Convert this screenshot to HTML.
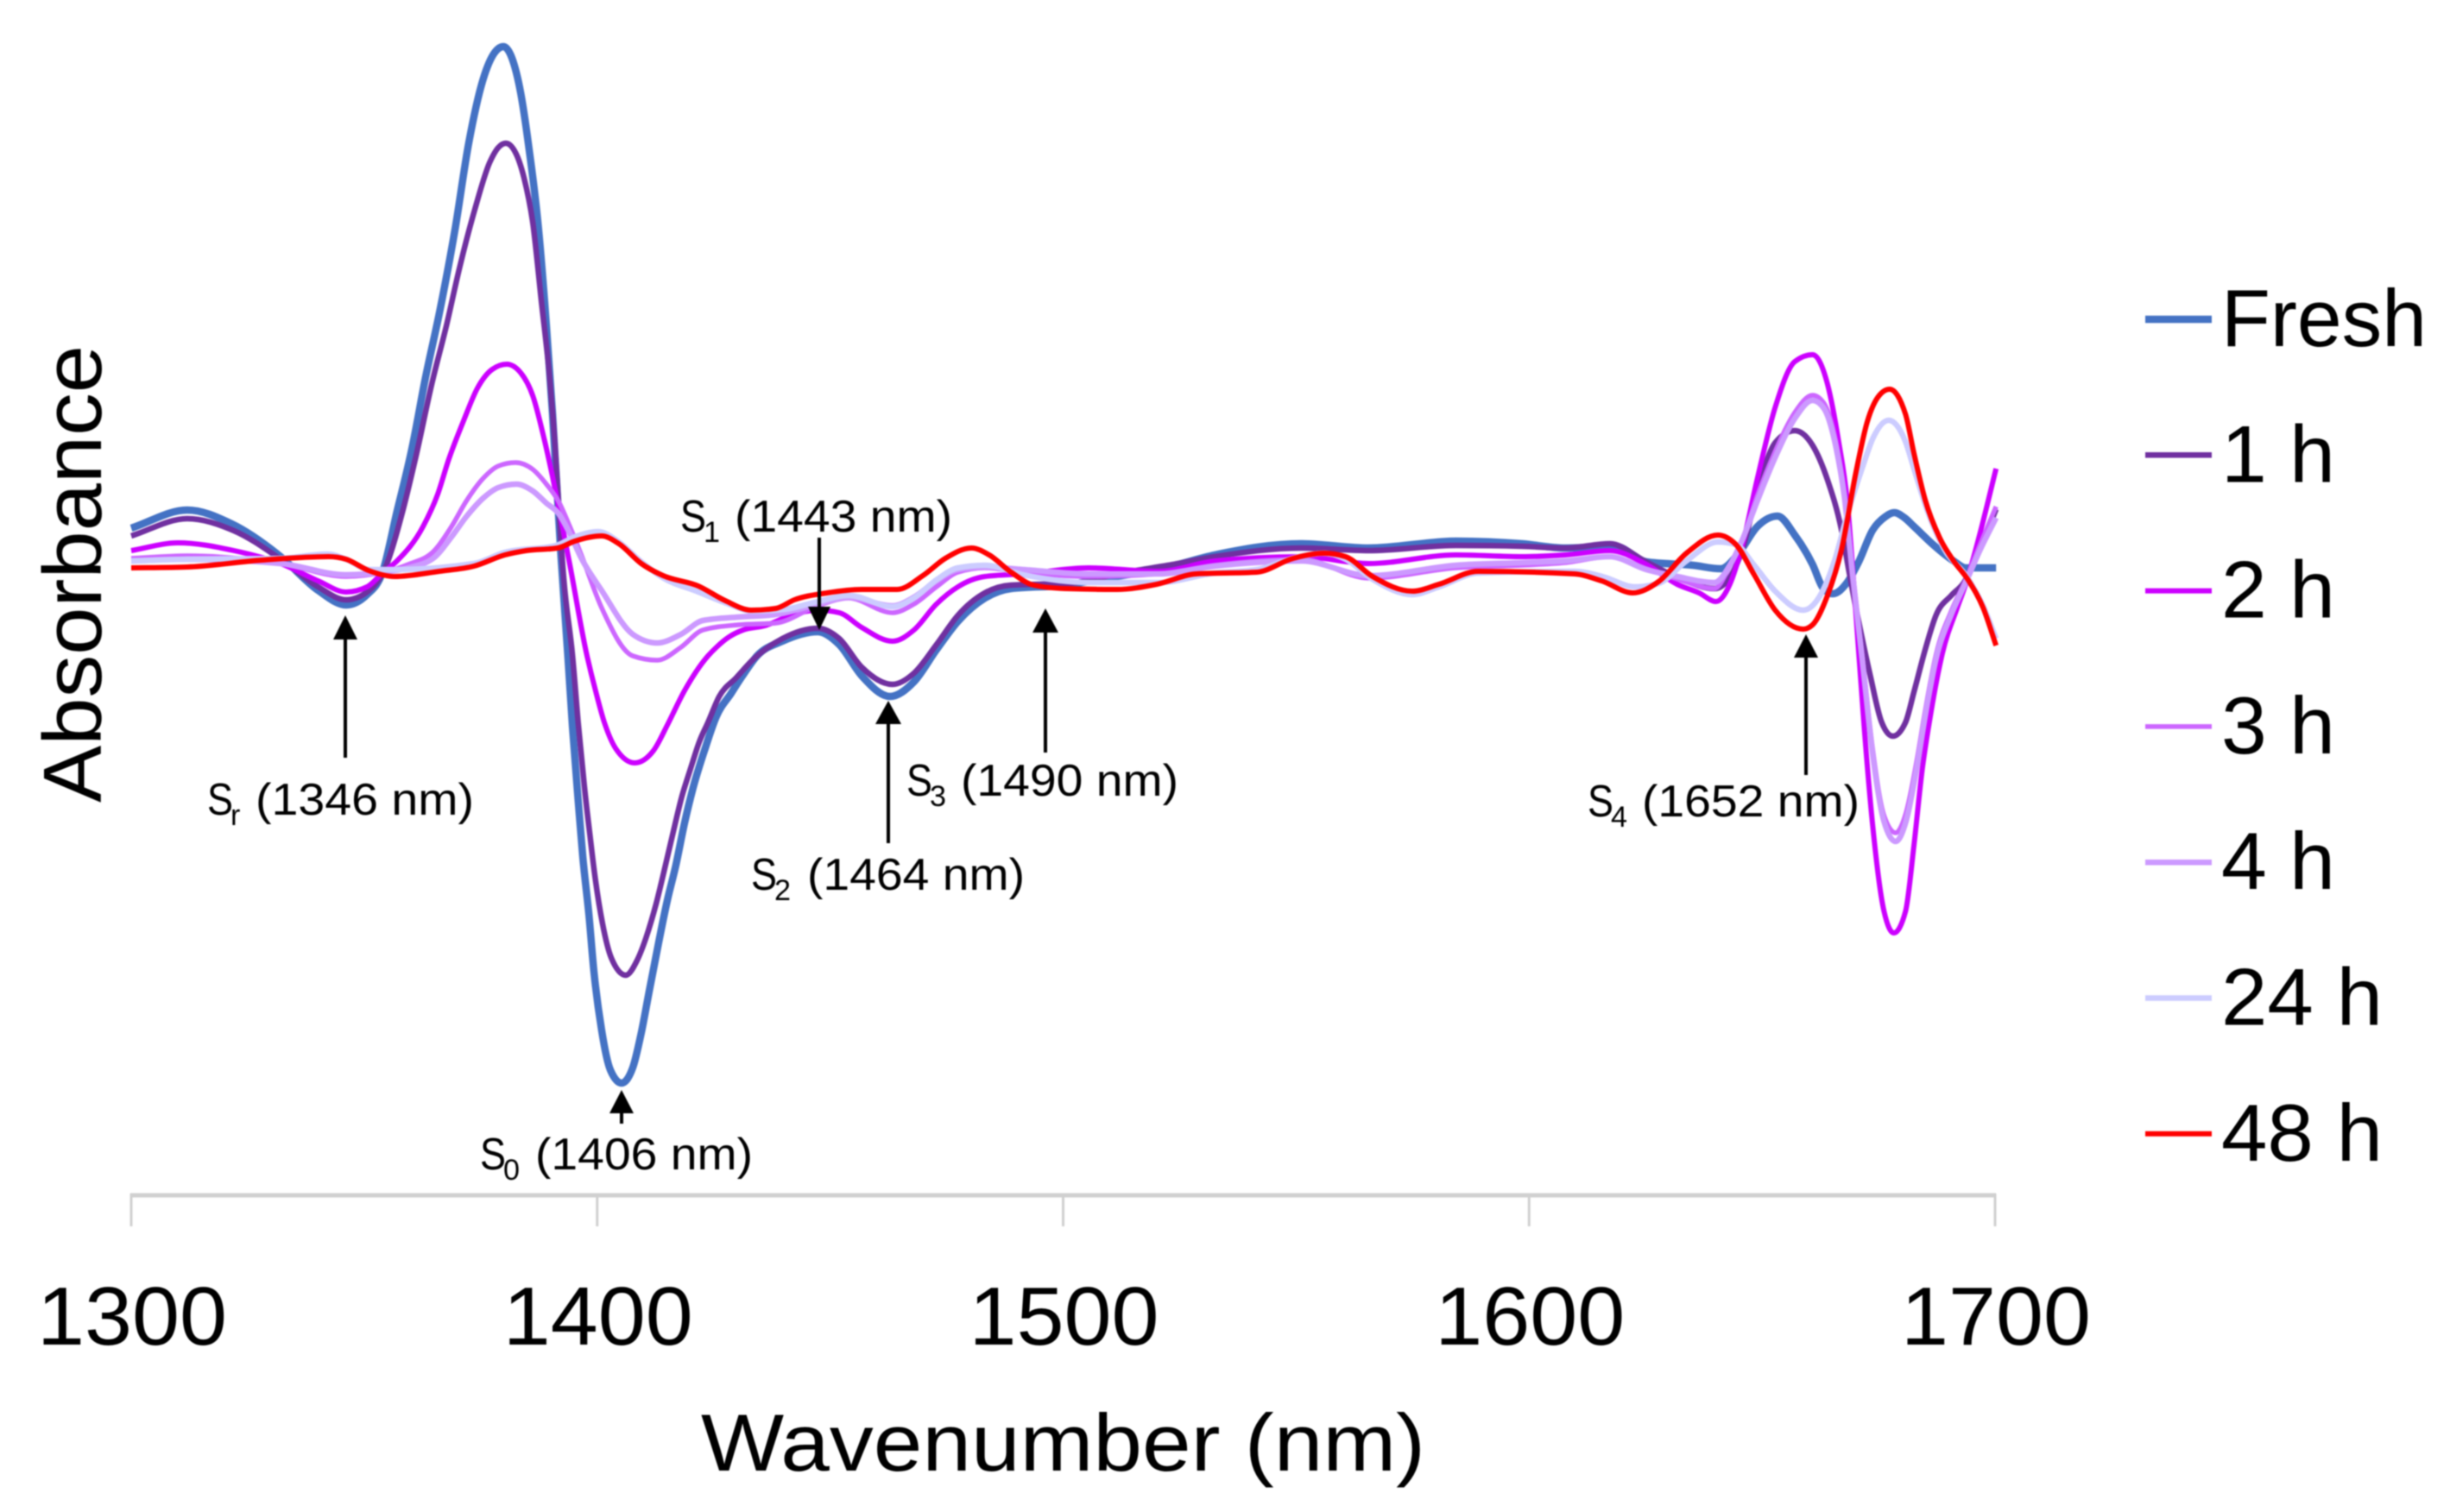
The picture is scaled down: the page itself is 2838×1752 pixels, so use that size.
<!DOCTYPE html>
<html lang="en">
<head>
<meta charset="utf-8">
<title>Absorbance vs Wavenumber</title>
<style>
html,body{margin:0;padding:0;background:#fff;width:2838px;height:1752px;overflow:hidden}
svg{display:block;font-family:"Liberation Sans",sans-serif;fill:#000;filter:blur(0.7px)}
</style>
</head>
<body>
<svg id="chart" xmlns="http://www.w3.org/2000/svg" width="2838" height="1752" viewBox="0 0 2838 1752">
  <rect x="0" y="0" width="2838" height="1752" fill="#ffffff"/>
  <text transform="translate(117,930) rotate(-90)" font-size="96" textLength="530" lengthAdjust="spacingAndGlyphs">Absorbance</text>
  <text x="812" y="1704" font-size="94" textLength="839" lengthAdjust="spacingAndGlyphs">Wavenumber (nm)</text>
  <g id="axis"></g>
  <g id="series" fill="none" stroke-linejoin="round" stroke-linecap="butt"></g>
  <g id="legend"></g>

  <g>
    <line x1="400" y1="878" x2="400" y2="735" stroke="#000" stroke-width="4"/>
    <polygon points="400,713 386,741 414,741" fill="#000"/>
    <text x="240" y="944" font-size="52" textLength="30" lengthAdjust="spacingAndGlyphs">S</text>
    <text x="267" y="956" font-size="34">r</text>
    <text x="296" y="944" font-size="52" textLength="253" lengthAdjust="spacingAndGlyphs">(1346 nm)</text>
  </g>
  <g>
    <line x1="949" y1="623" x2="949" y2="708" stroke="#000" stroke-width="4"/>
    <polygon points="949,730 936,703 962,703" fill="#000"/>
    <text x="788" y="616" font-size="52" textLength="30" lengthAdjust="spacingAndGlyphs">S</text>
    <text x="815" y="628" font-size="34" textLength="19" lengthAdjust="spacingAndGlyphs">1</text>
    <text x="851" y="616" font-size="52" textLength="252" lengthAdjust="spacingAndGlyphs">(1443 nm)</text>
  </g>
  <g>
    <line x1="1029" y1="977" x2="1029" y2="835" stroke="#000" stroke-width="4"/>
    <polygon points="1029,812 1014,839 1044,839" fill="#000"/>
    <text x="870" y="1031" font-size="52" textLength="30" lengthAdjust="spacingAndGlyphs">S</text>
    <text x="897" y="1043" font-size="34" textLength="19" lengthAdjust="spacingAndGlyphs">2</text>
    <text x="935" y="1031" font-size="52" textLength="252" lengthAdjust="spacingAndGlyphs">(1464 nm)</text>
  </g>
  <g>
    <line x1="1211" y1="872" x2="1211" y2="728" stroke="#000" stroke-width="4"/>
    <polygon points="1211,705 1196,733 1226,733" fill="#000"/>
    <text x="1050" y="922" font-size="52" textLength="30" lengthAdjust="spacingAndGlyphs">S</text>
    <text x="1077" y="934" font-size="34" textLength="19" lengthAdjust="spacingAndGlyphs">3</text>
    <text x="1113" y="922" font-size="52" textLength="252" lengthAdjust="spacingAndGlyphs">(1490 nm)</text>
  </g>
  <g>
    <line x1="2092" y1="898" x2="2092" y2="756" stroke="#000" stroke-width="4"/>
    <polygon points="2092,735 2078,762 2106,762" fill="#000"/>
    <text x="1839" y="946" font-size="52" textLength="30" lengthAdjust="spacingAndGlyphs">S</text>
    <text x="1866" y="958" font-size="34" textLength="19" lengthAdjust="spacingAndGlyphs">4</text>
    <text x="1902" y="946" font-size="52" textLength="252" lengthAdjust="spacingAndGlyphs">(1652 nm)</text>
  </g>
  <g>
    <line x1="720" y1="1302" x2="720" y2="1285" stroke="#000" stroke-width="4"/>
    <polygon points="720,1263 706,1290 734,1290" fill="#000"/>
    <text x="556" y="1355" font-size="52" textLength="30" lengthAdjust="spacingAndGlyphs">S</text>
    <text x="583" y="1367" font-size="34" textLength="19" lengthAdjust="spacingAndGlyphs">0</text>
    <text x="620" y="1355" font-size="52" textLength="252" lengthAdjust="spacingAndGlyphs">(1406 nm)</text>
  </g>
</svg>
<script>
const xTicks = [1300, 1400, 1500, 1600, 1700];
const seriesNames = ['Fresh', '1 h', '2 h', '3 h', '4 h', '24 h', '48 h'];

const freshNm = [1300,1312,1321.5,1332,1340,1346,1350.5,1353.8,
  1356.9,1360.1,1363,1366.2,1369.3,1372.3,1375.4,1377.8,1379.7,1381.5,1383.4,1385.2,1387.1,1388.9,1390.2,1391.1,1392,
  1393.5,1394.5,1395.7,1396.7,1398,1399.1,1400.7,1402.6,1405,1407.4,1409.2,1411.1,1412.9,1414.8,1416.6,1418.5,1420.3,1422.9,1425.3,1428.5,1430.9,1434,1439.4,
  1447,1451.6,1456.4,1462.5,1467.6,1472.4,1477,1482.8,1488.4,1500.7,1503.5,1522,1532,1550.6,1564.9,1583.7,1597.8,1607,1617.8,1624.4,1634.4,1640.3,1644.2,1648.2,1652.5,1656.2,
  1660,1662.2,1664.3,1667.4,1669.8,1672.9,1675.5,1677.5,1679.7,1681.7,1686,1690.2,1692.8,1699.3];
const freshAbs = [0.68,0.89,0.73,0.35,-0.04,-0.21,-0.09,0.17,
  0.87,1.60,2.42,3.23,4.13,5.15,5.89,6.19,6.26,6.13,5.72,5.07,4.21,3.03,2.01,1.19,0.38,
  -0.80,-1.63,-2.47,-3.13,-3.80,-4.47,-5.13,-5.60,-5.75,-5.57,-5.17,-4.63,-4.13,-3.63,-3.23,-2.73,-2.33,-1.87,-1.50,-1.23,-1.03,-0.80,-0.63,
  -0.52,-0.67,-1.03,-1.27,-1.10,-0.73,-0.40,-0.13,-0.02,0.02,0.05,0.23,0.37,0.50,0.45,0.53,0.50,0.45,0.47,0.29,0.25,0.21,0.39,0.70,0.82,0.60,
  0.26,-0.01,-0.08,0.05,0.28,0.66,0.81,0.86,0.80,0.70,0.48,0.30,0.22,0.22];

const oneHourNm = [1300,1312,1322,1332,1340,1346,1350.5,
  1354.7,1357.9,1361,1364.3,1367.5,1370.4,1373.6,1376.7,1378.6,1380.2,1382.3,1384.1,1386,1387.8,1389.6,1390.8,1391.7,1392.6,
  1394.5,1395.7,1397,1398.2,1399.4,1400.9,1402.8,1405.9,1408.3,1410.2,1412.4,1414.2,1416.1,1417.9,1419.8,1421.6,1423.5,1425.9,1429.6,1433,1439.4,
  1447,1451.6,1456.4,1463,1467.6,1472.4,1477,1482.8,1488.4,1500.7,1513,1522,1532,1550.6,1565,1583.7,1597.8,1607,1616.6,1624.4,1631,1639,1642.3,1645,1648.2,1652,1656.2,
  1660,1663.2,1666.2,1668,1669.9,1672.4,1674.8,1677.2,1679.9,1681.7,1684.1,1686.5,1689.7,1692.4,1695.5,1699.3];
const oneHourAbs = [0.59,0.79,0.65,0.32,0,-0.15,-0.06,
  0.26,0.83,1.52,2.34,3.03,3.72,4.38,4.91,5.09,5.14,5.03,4.74,4.21,3.32,2.42,1.60,0.79,0.10,
  -0.80,-1.57,-2.30,-2.87,-3.40,-3.90,-4.30,-4.50,-4.33,-4.07,-3.67,-3.27,-2.83,-2.43,-2.10,-1.80,-1.57,-1.27,-1.05,-0.85,-0.60,
  -0.48,-0.60,-0.93,-1.13,-1.00,-0.67,-0.33,-0.07,0.02,0.04,0.17,0.25,0.35,0.45,0.42,0.48,0.47,0.45,0.50,0.29,0.11,-0.02,0.11,0.44,1.11,1.67,1.81,
  1.64,1.24,0.66,0.12,-0.41,-1.04,-1.57,-1.73,-1.57,-1.22,-0.73,-0.32,-0.10,0.05,0.40,0.90];

const twoHourNm = [1300,1310,1322,1332,1340,1346,1350.5,1354,
  1356.9,1362.5,1365.6,1368,1371.2,1374.1,1377.3,1380.4,1383.4,1386,1388.4,1390.2,1392,1393.9,
  1397.6,1399.4,1401.3,1403.7,1407.8,1411.8,1414.8,1418.5,1423.5,1425.3,1428,1431,1435.7,
  1441.3,1447,1451.6,1456.4,1463,1467.6,1472.4,1477,1482.8,1491,1505,1520,1532,1550.6,1565,1583.7,1597.8,1607,1616.6,1624.4,1631,1635.7,1639.3,1642.3,1645,1648.2,1652,1656.2,
  1660,1663.2,1665.6,1667.4,1669.3,1671.1,1672.9,1675.3,1677.4,1679.9,1681.7,1683.5,1685.4,1687.8,1691,1692.8,1695.8,1699.3];
const twoHourAbs = [0.42,0.51,0.42,0.27,0.07,-0.06,0,0.17,
  0.30,0.70,1.07,1.48,1.93,2.30,2.52,2.58,2.48,2.21,1.72,1.28,0.79,0.26,
  -0.80,-1.20,-1.57,-1.87,-2.04,-1.90,-1.60,-1.20,-0.80,-0.70,-0.58,-0.50,-0.45,
  -0.33,-0.27,-0.30,-0.47,-0.63,-0.50,-0.20,0,0.12,0.15,0.22,0.18,0.30,0.35,0.27,0.37,0.35,0.37,0.42,0.26,0.03,-0.07,-0.17,0.03,0.49,1.26,2.08,2.61,
  2.69,2.35,1.68,1.01,-0.32,-1.66,-2.78,-3.76,-4.01,-3.76,-3.00,-2.11,-1.44,-0.77,-0.24,0.03,0.61,1.37];

const threeHourNm = [1300,1312,1332,1346,1354,
  1359.3,1364.9,1368.6,1371.7,1375.4,1378.6,1382.3,1386,1388.9,1391.5,1393.9,1396.3,
  1400.7,1407.4,1412.6,1417.7,1422.4,1430,1438,1447,1453.6,1463,1467.6,1472.4,1477,1482.8,1491,1505,1520,1532,1550.6,1565,1583.7,1597.8,1607,1616.6,1624.4,1631,1639,1642.3,1645,1648.2,1652,1656.2,
  1660,1662.4,1665,1666.8,1668.7,1670.6,1672.9,1675.3,1677.8,1680,1682.3,1684.1,1686.5,1689.7,1692.8,1695.8,1699.3];
const threeHourAbs = [0.33,0.36,0.27,0.12,0.17,
  0.26,0.42,0.70,0.99,1.26,1.40,1.44,1.36,1.19,0.99,0.70,0.38,
  -0.24,-0.80,-0.85,-0.70,-0.50,-0.44,-0.42,-0.22,-0.13,-0.30,-0.20,0,0.17,0.22,0.17,0.12,0.15,0.25,0.32,0.10,0.22,0.25,0.28,0.35,0.21,0.09,-0.02,0.24,0.55,1.06,1.57,2.02,
  2.22,2.13,1.68,1.10,0.12,-0.77,-1.89,-2.65,-2.85,-2.62,-2.02,-1.44,-0.77,-0.28,0.08,0.48,0.93];

const fourHourNm = [1300,1312,1332,1346,1354,1359.3,
  1364.9,1368.6,1371.7,1375.4,1378.6,1382.5,1386,1388.9,1391.5,1393.9,1396.3,
  1400.7,1407.4,1412.6,1417.7,1422.4,1430,1438,1447,1453.6,1463,1467.6,1472.4,1477,1482.8,1491,1505,1520,1532,1550.6,1565,1583.7,1597.8,1607,1616.6,1624.4,1631,1639,1642.3,1645,1648.2,1652,1656.2,
  1660,1662.4,1665,1666.8,1668.7,1670.6,1672.9,1675.3,1677.8,1680,1682.3,1684.1,1686.5,1689.7,1692.8,1695.8,1699.3];
const fourHourAbs = [0.30,0.32,0.27,0.14,0.17,0.22,
  0.34,0.58,0.81,1.03,1.15,1.19,1.11,0.97,0.85,0.62,0.34,
  -0.04,-0.55,-0.65,-0.55,-0.39,-0.35,-0.32,-0.20,-0.12,-0.22,-0.12,0.07,0.20,0.23,0.20,0.15,0.15,0.24,0.30,0.13,0.25,0.28,0.30,0.35,0.20,0.12,0.05,0.25,0.55,1.00,1.50,1.95,
  2.16,2.07,1.62,1.05,0.07,-0.82,-1.95,-2.72,-2.95,-2.72,-2.10,-1.50,-0.82,-0.32,0.05,0.42,0.80];

const dayNm = [1300,1312,1332,1342,1346,1351,1356,1373.4,1380,1391,1395,1400,1404.4,1409,1414,1421,1427,1433,1440,1447,1453.6,1463,1467.6,1472.4,1477,1482.8,1491,1505,1520,1532,1541,1550,1555.4,1560,1566,1574.3,1580,1588.4,1609,1615,1622,1627,1633,1639.7,1643.6,1647.5,1652,1658,1661.4,1664.7,1667.5,
  1670.6,1673,1676.3,1679.9,1681.7,1684.6,1688.3,1693,1696.5,1699.3];
const dayAbs = [0.30,0.32,0.33,0.38,0.32,0.20,0.20,0.27,0.40,0.48,0.58,0.64,0.52,0.30,0.10,-0.05,-0.18,-0.28,-0.26,-0.17,-0.10,-0.23,-0.13,0.08,0.22,0.25,0.14,0.05,0.05,0.16,0.20,0.35,0.39,0.32,0.08,-0.09,0,0.16,0.18,0.12,0,0.04,0.30,0.52,0.49,0.25,-0.05,-0.27,-0.12,0.30,0.85,
  1.37,1.73,1.93,1.68,1.37,0.88,0.43,0.12,-0.22,-0.60];

const twoDayNm = [1300,1312,1328,1342.3,1346,1350.8,1356.4,1366,1373.4,1380,1384.6,1391.3,1395,1400.7,1404.4,1409.2,1413.9,1421.4,1427.2,1432.8,1438,1442,1449,1456.4,1464,1469.5,1474.3,1479.9,1483.7,1488.4,1493.2,1500,1511,1519.6,1528,1541,1548.8,1555.4,1560,1565.8,1574.3,1580,1588.4,1609,1614.8,1621.5,1627,1633,1639.7,1643.6,1647.5,1652,1658,
  1660,1663.2,1666.2,1669.3,1671.7,1674.3,1676.5,1679.9,1681.7,1684.1,1687.2,1690.2,1693.3,1696.5,1699.3];
const twoDayAbs = [0.22,0.23,0.31,0.35,0.32,0.19,0.12,0.18,0.24,0.37,0.42,0.45,0.53,0.59,0.50,0.27,0.13,0.01,-0.16,-0.27,-0.25,-0.15,-0.07,-0.03,-0.03,0.13,0.33,0.45,0.37,0.17,0.02,-0.02,-0.03,0.03,0.15,0.17,0.33,0.39,0.35,0.12,-0.05,0.03,0.18,0.15,0.07,-0.07,0.06,0.39,0.60,0.49,0.14,-0.27,-0.49,
  -0.44,-0.10,0.43,1.33,1.91,2.22,2.29,2.00,1.55,1.01,0.57,0.30,0.08,-0.24,-0.68];

const seriesNmValues = [freshNm, oneHourNm, twoHourNm, threeHourNm, fourHourNm, dayNm, twoDayNm];
const seriesAbsValues = [freshAbs, oneHourAbs, twoHourAbs, threeHourAbs, fourHourAbs, dayAbs, twoDayAbs];

const NS = 'http://www.w3.org/2000/svg';
const lineColors = ['#4472C4', '#7030A0', '#CC00FF', '#CC66FF', '#CC99FF', '#CCCCFF', '#FF0000'];
const lineWidths = [8.5, 6.5, 6, 5.5, 6.5, 6.5, 6];

/* Tick axis: 1700 nm sits at x = 2311. */
function axisX(nm) { return 152 + (nm - 1300) * (2311 - 152) / 400; }
/* The series nm values were read assuming 1700 nm at x = 2316, so they use that
   mapping to stay on the reference curves (up to about 5 px off the tick axis). */
function seriesX(nm) { return 152 + (nm - 1300) * (2316 - 152) / 400; }
function yScale(a) { return 680 - a * 100; }

function monotonePath(xs, ys) {
  const n = xs.length;
  const slope = [];
  for (let i = 0; i < n - 1; i++) slope.push((ys[i + 1] - ys[i]) / (xs[i + 1] - xs[i]));
  const t = [slope[0]];
  for (let i = 1; i < n - 1; i++) {
    if (slope[i - 1] * slope[i] <= 0) { t.push(0); continue; }
    const h0 = xs[i] - xs[i - 1];
    const h1 = xs[i + 1] - xs[i];
    const p = (slope[i - 1] * h1 + slope[i] * h0) / (h0 + h1);
    const m = Math.min(Math.abs(slope[i - 1]), Math.abs(slope[i]));
    t.push(Math.sign(slope[i]) * Math.min(2 * m, Math.abs(p)));
  }
  t.push(slope[n - 2]);
  let d = 'M' + xs[0].toFixed(1) + ' ' + ys[0].toFixed(1);
  for (let i = 0; i < n - 1; i++) {
    const h = (xs[i + 1] - xs[i]) / 3;
    d += 'C' + (xs[i] + h).toFixed(1) + ' ' + (ys[i] + t[i] * h).toFixed(1) + ' ' +
      (xs[i + 1] - h).toFixed(1) + ' ' + (ys[i + 1] - t[i + 1] * h).toFixed(1) + ' ' +
      xs[i + 1].toFixed(1) + ' ' + ys[i + 1].toFixed(1);
  }
  return d;
}

const seriesGroup = document.getElementById('series');
seriesNames.forEach(function (name, i) {
  const path = document.createElementNS(NS, 'path');
  
  
  path.setAttribute('d', monotonePath(seriesNmValues[i].map(seriesX), seriesAbsValues[i].map(yScale)));
  path.setAttribute('stroke', lineColors[i]);
  path.setAttribute('stroke-width', lineWidths[i]);
  seriesGroup.appendChild(path);
});

const axisGroup = document.getElementById('axis');
const axisLine = document.createElementNS(NS, 'line');


axisLine.setAttribute('x1', axisX(xTicks[0]) - 1);
axisLine.setAttribute('x2', axisX(xTicks[xTicks.length - 1]) + 1);
axisLine.setAttribute('y1', 1385);
axisLine.setAttribute('y2', 1385);
axisLine.setAttribute('stroke', '#d0d0d0');
axisLine.setAttribute('stroke-width', 5);
axisGroup.appendChild(axisLine);
xTicks.forEach(function (tick) {
  const mark = document.createElementNS(NS, 'line');
  
  
  mark.setAttribute('x1', axisX(tick));
  mark.setAttribute('x2', axisX(tick));
  mark.setAttribute('y1', 1383);
  mark.setAttribute('y2', 1421);
  mark.setAttribute('stroke', '#d0d0d0');
  mark.setAttribute('stroke-width', 3);
  axisGroup.appendChild(mark);
  const label = document.createElementNS(NS, 'text');
  
  
  label.setAttribute('x', axisX(tick) - 109);
  label.setAttribute('y', 1558);
  label.setAttribute('font-size', 96);
  label.setAttribute('textLength', 220);
  label.setAttribute('lengthAdjust', 'spacingAndGlyphs');
  label.textContent = String(tick);
  axisGroup.appendChild(label);
});

const legendWidths = [238, 132, 132, 132, 132, 187, 187];
const legendGroup = document.getElementById('legend');
seriesNames.forEach(function (name, i) {
  const y = 370 + i * 157.3;
  const swatch = document.createElementNS(NS, 'line');
  
  
  swatch.setAttribute('x1', 2485);
  swatch.setAttribute('x2', 2562);
  swatch.setAttribute('y1', y);
  swatch.setAttribute('y2', y);
  swatch.setAttribute('stroke', lineColors[i]);
  swatch.setAttribute('stroke-width', lineWidths[i]);
  legendGroup.appendChild(swatch);
  const label = document.createElementNS(NS, 'text');
  
  
  label.setAttribute('x', 2573);
  label.setAttribute('y', y + 31);
  label.setAttribute('font-size', 94);
  label.setAttribute('textLength', legendWidths[i]);
  label.setAttribute('lengthAdjust', 'spacingAndGlyphs');
  label.textContent = name;
  legendGroup.appendChild(label);
});
</script>
</body>
</html>
